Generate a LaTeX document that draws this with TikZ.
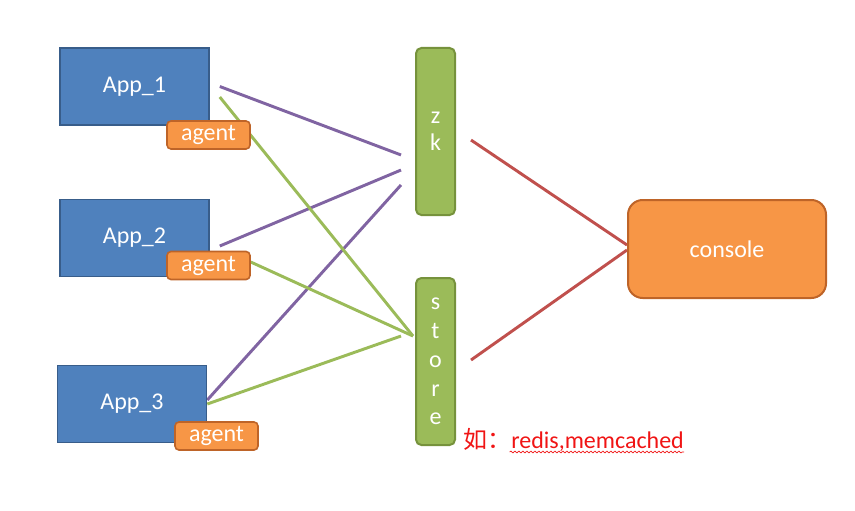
\documentclass[tikz,border=0pt]{standalone}
\usepackage{fontspec}
\setmainfont{Carlito}
\newfontfamily\cjk{Noto Sans CJK SC}
\usepackage{xcolor}
\definecolor{blue-600}{RGB}{79,129,189}
\definecolor{blue-800}{RGB}{56,93,138}
\definecolor{orange-500}{RGB}{247,150,70}
\definecolor{orange-800}{RGB}{190,100,40}
\definecolor{green-500}{RGB}{155,187,89}
\definecolor{green-700}{RGB}{118,146,60}
\definecolor{purple-600}{RGB}{128,100,162}
\definecolor{red-700}{RGB}{192,80,77}
\definecolor{red-500}{RGB}{240,20,20}
\usetikzlibrary{backgrounds,decorations.pathmorphing}

\begin{document}
\begin{tikzpicture}[
    x=0.75pt, y=-0.75pt,
    app box/.style={
        draw=blue-800,
        line width=1.2pt,
        fill=blue-600,
        minimum width=111.75pt,
        minimum height=57.75pt,
        text=white,
        font=\fontsize{18}{21.6}\selectfont
    },
    agent box/.style={
        rounded corners=3pt,
        draw=orange-800,
        line width=1.2pt,
        fill=orange-500,
        minimum width=62.25pt,
        minimum height=21pt,
        inner sep=0pt,
        text=white,
        font=\fontsize{18}{21.6}\selectfont
    },
    bar box/.style={
        rounded corners=4pt,
        draw=green-700,
        line width=1.5pt,
        fill=green-500,
        minimum width=29.25pt,
        minimum height=125.25pt,
        inner sep=0pt,
        align=center,
        text=white,
        font=\fontsize{18}{21.6}\selectfont
    },
    console box/.style={
        rounded corners=11pt,
        draw=orange-800,
        line width=1.5pt,
        fill=orange-500,
        minimum width=148.5pt,
        minimum height=73.5pt,
        text=white,
        font=\fontsize{18}{21.6}\selectfont
    },
    link/.style={line width=2.2pt, #1}
]
\useasboundingbox (0,0) rectangle (855,510);

% === APPS with agents ===
\node[app box] (app1) at (134.5,86.5) {App\_1};
\node[agent box] (agent1) at (208.5,135) {agent};

\node[app box] (app2) at (134.5,238) {App\_2};
\node[agent box] (agent2) at (208.5,265.5) {agent};

\node[app box] (app3) at (132,404) {App\_3};
\node[agent box] (agent3) at (216.5,436) {agent};

% === ZK and STORE ===
\node[bar box] (zk) at (435.5,131.5) {z\\[-1.5pt]k};
\node[bar box] (store) at (435.5,361.5) {s\\t\\o\\r\\e};

% === CONSOLE ===
\node[console box] (console) at (727,249) {console};

% note under store
\node[anchor=west, text=red-500, inner sep=0pt, font=\fontsize{18}{21.6}\selectfont] (note) at (463,440) {{\cjk 如：}redis,memcached};
\draw[red-500, line width=0.5pt, decorate, decoration={snake, amplitude=0.7pt, segment length=3pt}]
    ([xshift=35pt,yshift=-9pt]note.west) -- ([yshift=-9pt]note.east);

% === LINKS ===
\begin{scope}[on background layer]
% apps to zk
\draw[link=purple-600] ([xshift=7.5pt]app1.east) -- ([xshift=-10.5pt,yshift=-17.6pt]zk.west);
\draw[link=purple-600] ([xshift=7.5pt,yshift=-6pt]app2.east) -- ([xshift=-10.5pt,yshift=-28.9pt]zk.west);
\draw[link=purple-600] ([yshift=3pt]app3.east) -- ([xshift=-10.5pt,yshift=-40.1pt]zk.west);

% apps to store
\draw[link=green-500] ([xshift=7.5pt,yshift=-7.9pt]app1.east) -- ([xshift=-1.5pt,yshift=19.1pt]store.west);
\draw[link=green-500] ([yshift=2.6pt]agent2.east) -- ([xshift=-1.5pt,yshift=19.1pt]store.west);
\draw[link=green-500] (app3.east) -- ([xshift=-10.5pt,yshift=19.1pt]store.west);

% zk and store to console
\draw[link=red-700] ([xshift=11.25pt,yshift=-6.4pt]zk.east) -- ([yshift=3pt]console.west);
\draw[link=red-700] ([xshift=11.25pt,yshift=1.1pt]store.east) -- ([yshift=-0.75pt]console.west);
\end{scope}

\end{tikzpicture}
\end{document}
